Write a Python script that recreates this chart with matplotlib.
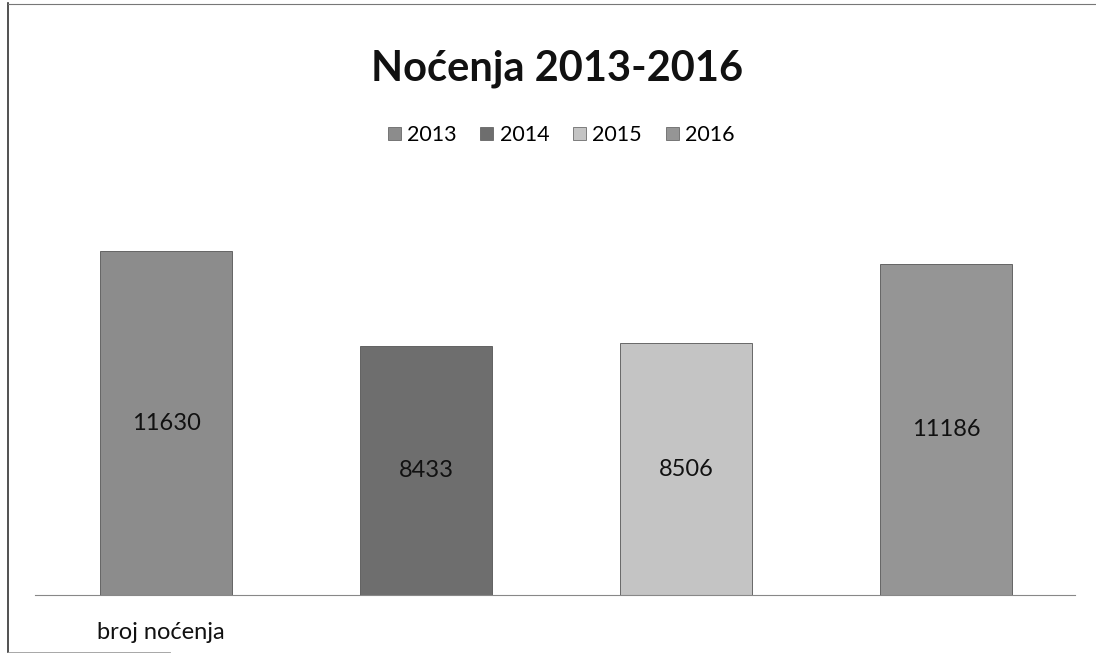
import matplotlib
matplotlib.use("Agg")
import matplotlib.pyplot as plt
from matplotlib.patches import Rectangle
from matplotlib.lines import Line2D

years = ["2013", "2014", "2015", "2016"]
values = [11630, 8433, 8506, 11186]
category = "broj noćenja"
title = "Noćenja 2013-2016"
colors = ["#8c8c8c", "#6e6e6e", "#c4c4c4", "#959595"]

plt.rcParams['font.family'] = ['Lato', 'DejaVu Sans']

fig = plt.figure(figsize=(10.96, 6.57), dpi=100)
ax = fig.add_axes([35/1096, 62/657, 1040/1096, 414/657])

xs = list(range(len(values)))
bars = ax.bar(xs, values, width=0.51, color=colors, edgecolor="#555555", linewidth=0.6, label=years)
for b, v in zip(bars, values):
    ax.text(b.get_x() + b.get_width()/2, v/2, str(v), ha="center", va="center",
            fontsize=17, color="#111111")

ax.set_xlim(-0.504, 3.496)
ax.set_ylim(0, 14000)
for s in ["top", "right", "left"]:
    ax.spines[s].set_visible(False)
ax.spines["bottom"].set_color("#888888")
ax.spines["bottom"].set_linewidth(0.8)
ax.set_xticks([])
ax.set_yticks([])

# category label
ax.text(-0.02, -0.09, category, transform=ax.get_xaxis_transform(), ha="center", va="center",
        fontsize=17, color="#111111")

fig.text(0.508, 1 - 69/657, title, ha="center", va="center", fontsize=30, fontweight="bold", color="#111111")

handles = [Rectangle((0, 0), 1, 1, facecolor=c, edgecolor="#555555", linewidth=0.5) for c in colors]
fig.legend(handles, years, loc="center", bbox_to_anchor=(0.512, 1 - 135/657), ncol=4, frameon=False,
           fontsize=15.5, handlelength=0.6, handleheight=0.6, handletextpad=0.3, columnspacing=1.1)

# frame
fig.add_artist(Line2D([8/1096, 8/1096], [1 - 3/657, 1 - 652/657], transform=fig.transFigure, color="#333333", lw=1.2))
fig.add_artist(Line2D([8/1096, 1], [1 - 4/657, 1 - 4/657], transform=fig.transFigure, color="#777777", lw=0.8))
fig.add_artist(Line2D([8/1096, 170/1096], [1 - 652/657, 1 - 652/657], transform=fig.transFigure, color="#999999", lw=0.6))

fig.savefig("out.png", dpi=100, facecolor="white")
